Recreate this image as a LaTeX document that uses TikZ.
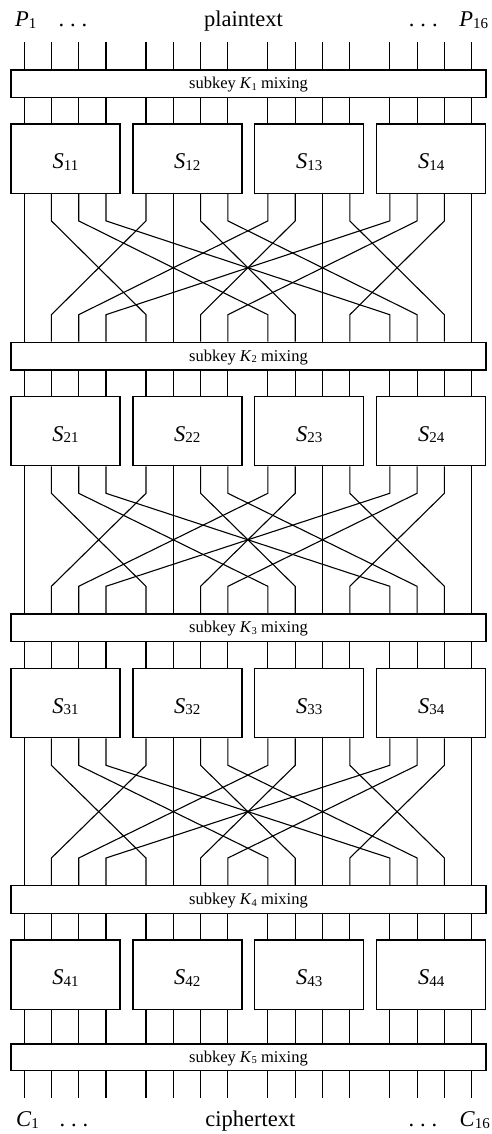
\documentclass[tikz,border=0pt]{standalone}
\usepackage{fontspec}
\setmainfont{Liberation Serif}
\usetikzlibrary{calc}

% italic symbol with an upright, slightly lowered index
\newcommand{\symsub}[2]{\textit{#1}\raisebox{-1.5pt}{\fontsize{15}{15}\selectfont #2}}
\newcommand{\keysub}[1]{\textit{K}\raisebox{-1.5pt}{\fontsize{10.5}{10.5}\selectfont #1}}
\newcommand{\threedots}{.\hspace{5.9pt}.\hspace{5.9pt}.}

\begin{document}
\begin{tikzpicture}[x=1pt, y=-1pt,
  wire/.style={line width=1.1pt, black},
  mixbar/.style={draw, line width=1.3pt, minimum width=475pt, minimum height=27.7pt,
    inner sep=0pt, anchor=north west, text height=10.3pt, text depth=0pt,
    font=\fontsize{16.5}{16.5}\selectfont},
  sbox/.style={draw, line width=1.3pt, minimum width=109pt, minimum height=69.3pt,
    inner sep=0pt, anchor=north west, text height=20pt, text depth=0pt,
    font=\fontsize{22.5}{22.5}\selectfont},
  lbl/.style={font=\fontsize{22.5}{22.5}\selectfont, inner sep=0pt},
]
\useasboundingbox (0,0) rectangle (492,1134);

% wire columns: four per S-box, sixteen in all
\foreach \i in {0,...,15} {
  \pgfmathsetmacro\xx{10.3 + 121.9*floor(\i/4) + 13.8 + 27.3*mod(\i,4)}
  \coordinate (c\i) at (\xx, 0);
  \coordinate (top\i) at (\xx, 42.3);
  \coordinate (bot\i) at (\xx, 1098.3);
}

% subkey mixing layers
\node[mixbar] (k1) at (10.3, 69.3)   {subkey \keysub{1} mixing};
\node[mixbar] (k2) at (10.3, 341.7)  {subkey \keysub{2} mixing};
\node[mixbar] (k3) at (10.3, 613.3)  {subkey \keysub{3} mixing};
\node[mixbar] (k4) at (10.3, 885.0)  {subkey \keysub{4} mixing};
\node[mixbar, minimum height=26.5pt, text height=9.8pt] (k5) at (10.3, 1043.3) {subkey \keysub{5} mixing};

% S-boxes
\foreach \r/\y in {1/123.3, 2/395.7, 3/667.7, 4/939.3} {
  \foreach \j in {1,...,4} {
    \node[sbox] (s\r\j) at ({10.3 + 121.9*(\j-1)}, \y) {\symsub{S}{\r\j}};
  }
}

% plaintext and ciphertext labels
\node[lbl, anchor=base west] (p1)   at (15, 26.7)    {\symsub{P}{1}};
\node[lbl, anchor=base]      (pd1)  at (73, 26.7)    {\threedots};
\node[lbl, anchor=base]      (ptx)  at (243.6, 26.7) {plaintext};
\node[lbl, anchor=base]      (pd2)  at (423.3, 26.7) {\threedots};
\node[lbl, anchor=base east] (p16)  at (488.3, 26.7) {\symsub{P}{16}};

\node[lbl, anchor=base west] (c1l)  at (16, 1126.7)    {\symsub{C}{1}};
\node[lbl, anchor=base]      (cd1)  at (74, 1126.7)    {\threedots};
\node[lbl, anchor=base]      (ctx)  at (250.3, 1126.7) {ciphertext};
\node[lbl, anchor=base]      (cd2)  at (423, 1126.7)   {\threedots};
\node[lbl, anchor=base east] (c16l) at (490, 1126.7)   {\symsub{C}{16}};

% input and output wires
\foreach \i in {0,...,15} {
  \pgfmathtruncatemacro\jj{floor(\i/4)+1}
  \draw[wire] (top\i) -- (k1.north -| c\i);
  \draw[wire] (k5.south -| c\i) -- (bot\i);
  \draw[wire] (s4\jj.south -| c\i) -- (k5.north -| c\i);
  \foreach \r in {1,2,3,4} {
    \draw[wire] (k\r.south -| c\i) -- (s\r\jj.north -| c\i);
  }
}

% bit permutation between rounds
\foreach \r in {1,2,3} {
  \pgfmathtruncatemacro\rn{\r+1}
  \foreach \i in {0,...,15} {
    \pgfmathtruncatemacro\jj{floor(\i/4)+1}
    \pgfmathtruncatemacro\t{4*mod(\i,4)+floor(\i/4)}
    \draw[wire] (s\r\jj.south -| c\i) -- ++(0,27)
      -- ($(k\rn.north -| c\t)+(0,-27)$) -- (k\rn.north -| c\t);
  }
}
\end{tikzpicture}
\end{document}
